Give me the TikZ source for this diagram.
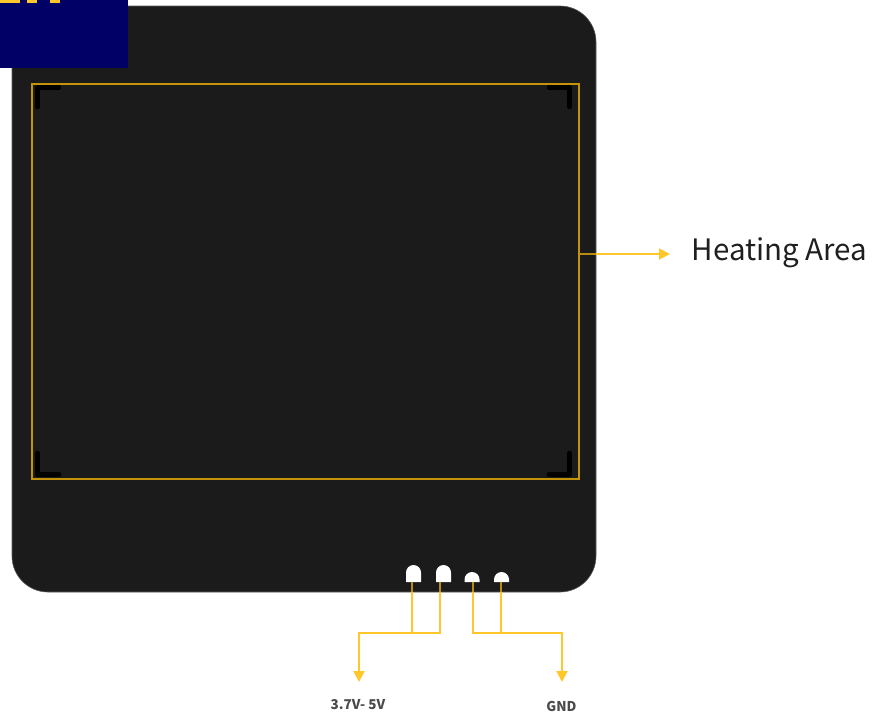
\documentclass[tikz,border=0pt]{standalone}
\usepackage{fontspec}
\setmainfont{Noto Sans}
\newfontfamily\labelfont{Noto Sans CJK SC}
\usetikzlibrary{arrows.meta}
\definecolor{boardc}{HTML}{1B1B1B}
\definecolor{boardedge}{HTML}{5A5A5A}
\definecolor{goldc}{HTML}{C4930A}
\definecolor{wirec}{HTML}{FFC72C}
\definecolor{wiredark}{HTML}{B98C12}
\definecolor{navyc}{HTML}{000066}
\definecolor{labelc}{HTML}{4A4A4A}
\tikzset{
  board/.style={fill=boardc,draw=boardedge,line width=0.6pt,rounded corners=36pt,inner sep=0pt,minimum width=584pt,minimum height=586pt},
  heat/.style={draw=goldc,line width=1.8pt,inner sep=0pt,minimum width=547pt,minimum height=395pt},
  corner/.style={draw=black,line width=4.5pt,line cap=round,line join=round},
  padc/.style={fill=white,draw=none},
  wire/.style={draw=wirec,line width=2pt,line join=miter},
  wirein/.style={draw=wiredark,line width=2pt},
  arrowed/.style={wire,-{Triangle[length=11pt,width=11pt]}},
  tag/.style={inner sep=0pt,text=labelc,font=\labelfont\fontsize{13.5}{16}\selectfont\bfseries},
  big/.style={inner sep=0pt,anchor=west,text=black!88,font=\labelfont\fontsize{29.5}{34}\selectfont},
  navybox/.style={fill=navyc,draw=none},
  scrap/.style={fill=wirec,draw=none}
}
\begin{document}
\begin{tikzpicture}[x=1pt,y=-1pt]
\useasboundingbox (0,0) rectangle (872,716);
\fill[white] (0,0) rectangle (872,716);
% board
\node[board] (brd) at (304,299) {};
% corner marks
\draw[corner] (59,87.5) -- (37.5,87.5) -- (37.5,107);
\draw[corner] (549,87.5) -- (569.5,87.5) -- (569.5,107);
\draw[corner] (37.5,453) -- (37.5,474.5) -- (59,474.5);
\draw[corner] (569.5,453) -- (569.5,474.5) -- (549,474.5);
% heating area
\node[heat] (ha) at (305.5,281.5) {};
% pads
\fill[padc] (406,582) -- (406,572.5) arc[start angle=180,end angle=360,radius=7.5] -- (421,582) -- cycle;
\fill[padc] (436,582) -- (436,572.5) arc[start angle=180,end angle=360,radius=7.5] -- (451,582) -- cycle;
\fill[padc] (464.5,582) -- (464.5,579.5) arc[start angle=180,end angle=360,radius=7.5] -- (479.5,582) -- cycle;
\fill[padc] (494,582) -- (494,579.5) arc[start angle=180,end angle=360,radius=7.5] -- (509,582) -- cycle;
\coordinate (p1) at (412,582);
\coordinate (p2) at (440,582);
\coordinate (p3) at (473,582);
\coordinate (p4) at (501,582);
\coordinate (j1) at (412,633);
\coordinate (j2) at (440,633);
\coordinate (j3) at (473,633);
\coordinate (j4) at (501,633);
\coordinate (e1) at (412,591.5);
\coordinate (e2) at (440,591.5);
\coordinate (e3) at (473,591.5);
\coordinate (e4) at (501,591.5);
% labels
\node[tag] (vlab) at (358,705) {3.7V- 5V};
\node[tag] (glab) at (561.5,706) {GND};
\node[big] (halab) at (691.5,253) {Heating Area};
\coordinate (atip) at (670,254);
\coordinate (vtip) at (359,682);
\coordinate (gtip) at (562,682);
% wires
\draw[wire] (e1) -- (j1);
\draw[wirein] (p1) -- (e1);
\draw[wirein] (p2) -- (e2);
\draw[wirein] (p3) -- (e3);
\draw[wirein] (p4) -- (e4);
\draw[arrowed] (e2) -- (j2) -- (vtip |- j2) -- (vtip);
\draw[arrowed] (e3) -- (j3) -- (gtip |- j3) -- (gtip);
\draw[wire] (e4) -- (j4);
\draw[wirein] (ha.east |- atip) -- (brd.east |- atip);
\draw[arrowed] (brd.east |- atip) -- (atip);
% navy block
\fill[navybox] (0,0) rectangle (128,68);
\fill[scrap] (0,0) rectangle (20,3);
\fill[scrap] (27,0) rectangle (37,3);
\fill[scrap] (50,0) rectangle (60,3);
\end{tikzpicture}
\end{document}
